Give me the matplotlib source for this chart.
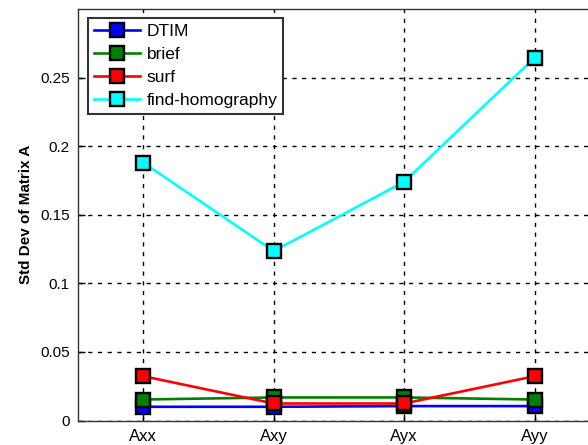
import matplotlib
matplotlib.use("Agg")
import matplotlib.pyplot as plt

plt.rcParams['font.family'] = ['Liberation Sans', 'DejaVu Sans']

components = ["Axx", "Axy", "Ayx", "Ayy"]
dtim = [0.010, 0.010, 0.0105, 0.0105]
brief = [0.0153, 0.0168, 0.0168, 0.0153]
surf = [0.0323, 0.0124, 0.0124, 0.0323]
find_homography = [0.188, 0.1235, 0.174, 0.2645]

series = [
    ("DTIM", dtim, "#0000ff"),
    ("brief", brief, "#008000"),
    ("surf", surf, "#ff0000"),
    ("find-homography", find_homography, "#00ffff"),
]

fig = plt.figure(figsize=(5.88, 4.45), dpi=100)
ax = fig.add_axes([78 / 588, 24.5 / 445, 522 / 588, 411.5 / 445])

x = list(range(1, len(components) + 1))
for name, vals, col in series:
    ax.plot(x, vals, color=col, lw=1.9, marker="s", markersize=10,
            markerfacecolor=col, markeredgecolor="black", markeredgewidth=1.7,
            label=name)

ax.set_xlim(0.5, 4.5)
ax.set_ylim(0, 0.3)
ax.set_xticks(x)
ax.set_xticklabels(components, fontsize=12)
ax.set_yticks([0, 0.05, 0.1, 0.15, 0.2, 0.25])
ax.set_yticklabels(["0", "0.05", "0.1", "0.15", "0.2", "0.25"], fontsize=11)
ax.tick_params(direction="in", length=5, width=1, pad=6, colors="black")
ax.grid(True, color="black", linestyle=(0, (3, 4)), linewidth=1)
ax.set_axisbelow(True)
for sp in ax.spines.values():
    sp.set_color("#333333")
    sp.set_linewidth(1)

ax.set_ylabel("Std Dev of Matrix A", fontsize=11, fontweight="bold",
              labelpad=5)

leg = ax.legend(loc="upper left", bbox_to_anchor=(9.5 / 522, 1 - 8.5 / 411.5),
                bbox_transform=ax.transAxes, fontsize=12.5, frameon=True,
                fancybox=False, edgecolor="#333333", framealpha=1,
                handlelength=2.65, handletextpad=0.4, borderpad=0.35,
                labelspacing=0.45, borderaxespad=0)
leg.get_frame().set_linewidth(1.5)

fig.savefig("out.png", dpi=100)
